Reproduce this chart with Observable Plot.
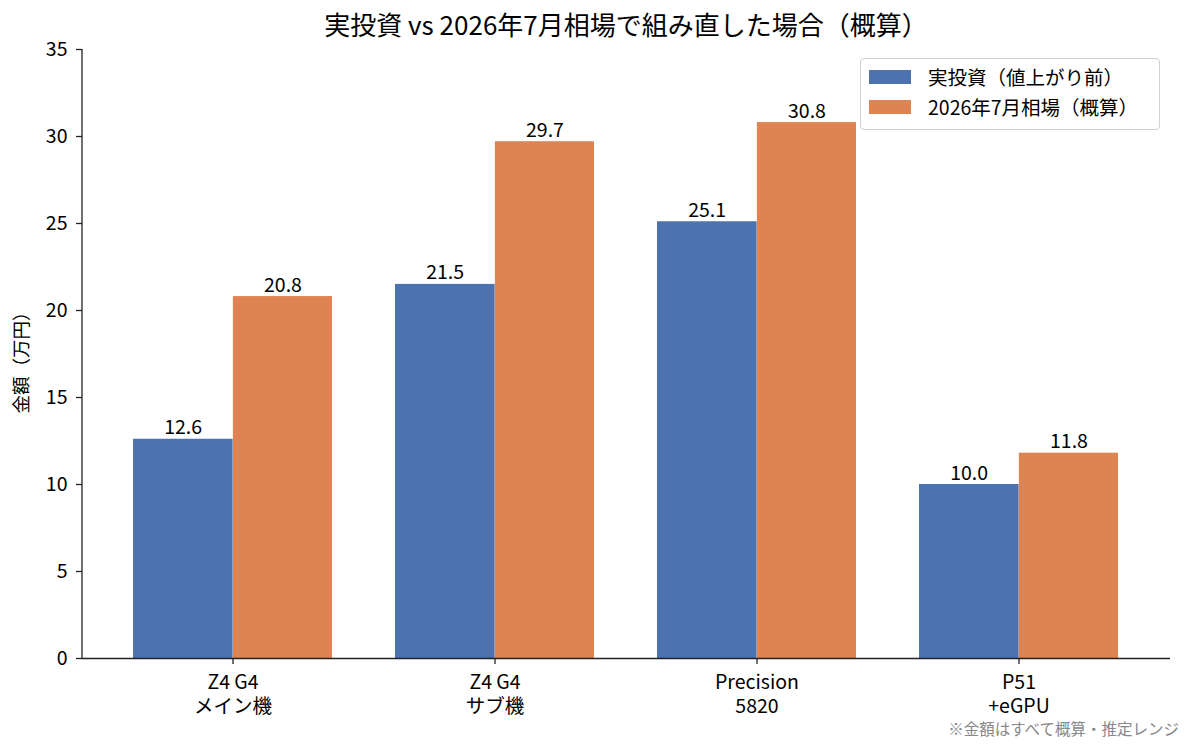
<!DOCTYPE html>
<html>
<head>
<meta charset="utf-8">
<script src="https://cdn.jsdelivr.net/npm/d3@7"></script>
<script src="https://cdn.jsdelivr.net/npm/@observablehq/plot@0.6"></script>
<style>
  html, body { margin: 0; padding: 0; background: #fff; }
  body { width: 1195px; height: 754px; position: relative; overflow: hidden;
         font-family: "Noto Sans CJK JP", "Noto Sans", sans-serif; color: #000; }
  #title { position: absolute; left: 82px; width: 1088px; top: 0; height: 48px; line-height: 48px;
           text-align: center; font-size: 26px; }
  #chart { position: absolute; left: 0; top: 30px; }
  #ylabel { position: absolute; left: 20px; top: 358px; transform: translate(-50%, -50%) rotate(-90deg);
            font-size: 18.5px; white-space: nowrap; }
  #legend { position: absolute; left: 860px; top: 58px; width: 298px; height: 70px;
            border: 1px solid #d0d0d0; border-radius: 4px; background: rgba(255,255,255,0.8); }
  .lrow { position: absolute; left: 0; height: 24px; width: 100%; }
  .sw { position: absolute; left: 8px; top: 5px; width: 42px; height: 14px; }
  .lt { position: absolute; left: 67px; top: 0; line-height: 24px; font-size: 19.5px; white-space: nowrap; }
  #caption { position: absolute; right: 16px; top: 717px; font-size: 15.5px; color: #888; white-space: nowrap; }
</style>
</head>
<body>
<div id="title"></div>
<div id="chart"></div>
<div id="ylabel"></div>
<div id="legend"></div>
<div id="caption"></div>
<script>
const titleText = "実投資 vs 2026年7月相場で組み直した場合（概算）";
const yLabelText = "金額（万円）";
const captionText = "※金額はすべて概算・推定レンジ";
const groups = ["Z4 G4\nメイン機", "Z4 G4\nサブ機", "Precision\n5820", "P51\n+eGPU"];
const seriesNames = ["実投資（値上がり前）", "2026年7月相場（概算）"];
const actual = [12.6, 21.5, 25.1, 10.0];
const market = [20.8, 29.7, 30.8, 11.8];
const yTicks = [0, 5, 10, 15, 20, 25, 30, 35];
const colors = ["#4c72b0", "#dd8452"];

document.getElementById("title").textContent = titleText;
document.getElementById("ylabel").textContent = yLabelText;
document.getElementById("caption").textContent = captionText;

const legend = document.getElementById("legend");
seriesNames.forEach((name, i) => {
  const row = document.createElement("div");
  row.className = "lrow";
  row.style.top = (6 + i * 30) + "px";
  row.innerHTML = `<div class="sw" style="background:${colors[i]}"></div><div class="lt"></div>`;
  row.querySelector(".lt").textContent = name;
  legend.appendChild(row);
});

const W = 1195, H = 724, ml = 82, mr = 25, mt = 19, mb = 96;
const padIn = 0.24, padOut = 0.19;
const bw = d3.scaleBand().domain(groups).range([ml, W - mr]).paddingInner(padIn).paddingOuter(padOut).bandwidth();
const half = bw / 2;

const rowsA = groups.map((g, i) => ({group: g, value: actual[i]}));
const rowsB = groups.map((g, i) => ({group: g, value: market[i]}));

const leftSpine = (index, scales, values, dims) => {
  const l = document.createElementNS("http://www.w3.org/2000/svg", "line");
  l.setAttribute("x1", dims.marginLeft);
  l.setAttribute("x2", dims.marginLeft);
  l.setAttribute("y1", dims.marginTop);
  l.setAttribute("y2", dims.height - dims.marginBottom);
  l.setAttribute("stroke", "#222");
  l.setAttribute("stroke-width", 1.3);
  return l;
};

const plot = Plot.plot({
  width: W, height: H,
  marginLeft: ml, marginRight: mr, marginTop: mt, marginBottom: mb,
  style: {fontFamily: "'Noto Sans CJK JP', 'Noto Sans', sans-serif", color: "#000", background: "transparent"},
  x: {type: "band", domain: groups, paddingInner: padIn, paddingOuter: padOut, label: null},
  y: {domain: [0, 35], label: null},
  marks: [
    Plot.barY(rowsA, {x: "group", y: "value", fill: colors[0], insetRight: half - 0.5}),
    Plot.barY(rowsB, {x: "group", y: "value", fill: colors[1], insetLeft: half}),
    Plot.text(rowsA, {x: "group", y: "value", text: d => d.value.toFixed(1), dx: -half / 2, dy: -5,
      lineAnchor: "bottom", fontSize: 19.5, fill: "#000"}),
    Plot.text(rowsB, {x: "group", y: "value", text: d => d.value.toFixed(1), dx: half / 2, dy: -5,
      lineAnchor: "bottom", fontSize: 19.5, fill: "#000"}),
    Plot.axisY({ticks: yTicks, tickSize: 6, tickPadding: 9, fontSize: 19.5, label: null, stroke: "#222", strokeWidth: 1.3}),
    Plot.axisX({tickSize: 6, tickPadding: 7, fontSize: 19.5, lineHeight: 1.23, label: null, stroke: "#222", strokeWidth: 1.3}),
    Plot.ruleY([0], {stroke: "#222", strokeWidth: 1.3}),
    leftSpine
  ]
});
document.getElementById("chart").appendChild(plot);
</script>
</body>
</html>
